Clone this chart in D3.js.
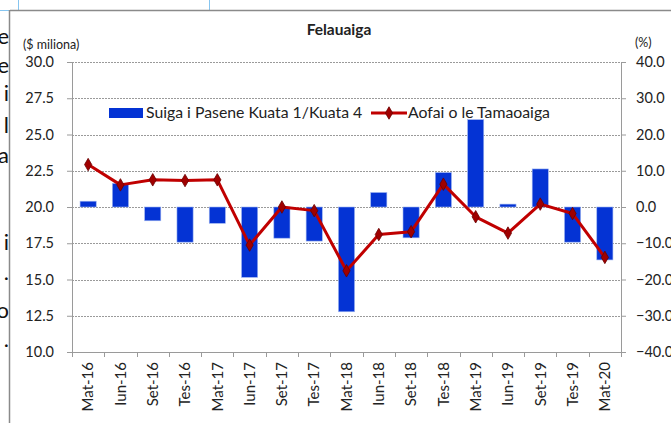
<!DOCTYPE html>
<html>
<head>
  <meta charset="utf-8">
  <title>Felauaiga</title>
  <style>
    body { margin: 0; background: #fff; }
    svg text { font-family: Lato, "Open Sans", sans-serif; fill: #222; }
  </style>
</head>
<body>
  <div id="chart"></div>

  <script src="https://d3js.org/d3.v7.min.js"></script>
  <script>
    // Vaitaimi (kuata)
    const categories = ["Mat-16", "Iun-16", "Set-16", "Tes-16", "Mat-17", "Iun-17", "Set-17", "Tes-17",
      "Mat-18", "Iun-18", "Set-18", "Tes-18", "Mat-19", "Iun-19", "Set-19", "Tes-19", "Mat-20"];

    // Suiga i Pasene Kuata 1/Kuata 4 (%)
    const barValues = [1.6, 6.5, -3.8, -9.7, -4.5, -19.4, -8.6, -9.4,
      -28.9, 4.0, -8.5, 9.5, 24.1, 0.8, 10.5, -9.7, -14.6];

    // Aofai o le Tamaoaiga (%)
    const lineValues = [11.7, 6.1, 7.5, 7.3, 7.5, -10.5, 0.0, -1.0,
      -17.6, -7.6, -6.8, 6.3, -2.7, -7.2, 0.8, -1.8, -13.9];

    const leftTicks = [10, 12.5, 15, 17.5, 20, 22.5, 25, 27.5, 30];
    const rightTicks = [-40, -30, -20, -10, 0, 10, 20, 30, 40];

    const width = 671, height = 423;
    const plot = { left: 72, right: 621, top: 62, bottom: 352 };

    const svg = d3.select("#chart").append("svg")
      .attr("width", width)
      .attr("height", height);

    // cut-off text from the page on the left
    const sideText = [["e", 44], ["e", 73], ["i", 101], ["l", 133], ["a", 163], ["i", 250], [".", 280], ["o", 318], [".", 347]];
    svg.append("g").selectAll("text")
      .data(sideText)
      .enter().append("text")
      .attr("x", 9)
      .attr("y", d => d[1])
      .attr("text-anchor", "end")
      .style("font-size", "22px")
      .style("fill", "#111")
      .text(d => d[0]);
    svg.append("rect").attr("x", 10).attr("y", 0).attr("width", width).attr("height", height).attr("fill", "#fff");

    // cell borders and chart frame
    svg.append("line").attr("x1", 0).attr("x2", 18).attr("y1", 10.5).attr("y2", 10.5).attr("stroke", "#86c5f0");
    svg.append("line").attr("x1", 18.5).attr("x2", 18.5).attr("y1", 0).attr("y2", 10).attr("stroke", "#86c5f0");
    svg.append("line").attr("x1", 209.5).attr("x2", 209.5).attr("y1", 0).attr("y2", 10).attr("stroke", "#86c5f0");
    svg.append("line").attr("x1", 10).attr("x2", width).attr("y1", 10.5).attr("y2", 10.5).attr("stroke", "#8a8a8a").attr("stroke-width", 1.5);
    svg.append("line").attr("x1", 9.5).attr("x2", 9.5).attr("y1", 10).attr("y2", height).attr("stroke", "#8a8a8a").attr("stroke-width", 1.5);

    const x = d3.scaleBand()
      .domain(categories)
      .range([plot.left, plot.right])
      .paddingInner(0.5)
      .paddingOuter(0.25);

    const xc = d => x(d) + x.bandwidth() / 2;

    const yLeft = d3.scaleLinear().domain([10, 30]).range([plot.bottom, plot.top]);
    const yRight = d3.scaleLinear().domain([-40, 40]).range([plot.bottom, plot.top]);

    // gridlines
    svg.append("g").selectAll("line")
      .data(leftTicks.filter(d => d > 10))
      .enter().append("line")
      .attr("x1", plot.left).attr("x2", plot.right)
      .attr("y1", d => Math.round(yLeft(d)) + 0.5)
      .attr("y2", d => Math.round(yLeft(d)) + 0.5)
      .attr("stroke", "#9a9a9a")
      .attr("stroke-dasharray", "2,1");

    // bars
    svg.append("g").selectAll("rect")
      .data(barValues)
      .enter().append("rect")
      .attr("x", (d, i) => x(categories[i]))
      .attr("width", x.bandwidth())
      .attr("y", d => yRight(Math.max(0, d)))
      .attr("height", d => Math.abs(yRight(d) - yRight(0)))
      .attr("fill", "#0433d4")
      .attr("stroke", "#9db4f0")
      .attr("stroke-width", 0.6);

    // axes
    const leftAxis = svg.append("g")
      .attr("transform", `translate(${plot.left},0)`)
      .call(d3.axisLeft(yLeft).tickValues(leftTicks).tickFormat(d3.format(".1f")).tickSizeOuter(0).tickSize(5).tickPadding(13));
    const rightAxis = svg.append("g")
      .attr("transform", `translate(${plot.right},0)`)
      .call(d3.axisRight(yRight).tickValues(rightTicks).tickFormat(d3.format(".1f")).tickSizeOuter(0).tickSize(5).tickPadding(10));
    const bottomAxis = svg.append("g")
      .attr("transform", `translate(0,${plot.bottom})`)
      .call(d3.axisBottom(x).tickSize(0).tickSizeOuter(0));

    [leftAxis, rightAxis, bottomAxis].forEach(g => {
      g.select(".domain").attr("stroke", "#9a9a9a");
      g.selectAll(".tick line").attr("stroke", "#9a9a9a");
      g.selectAll("text").style("font-size", "14.5px").style("font-family", "Lato, sans-serif").attr("fill", "#222");
    });

    // category boundary ticks
    const bounds = d3.range(categories.length + 1).map(i => plot.left + i * (plot.right - plot.left) / categories.length);
    svg.append("g").selectAll("line")
      .data(bounds)
      .enter().append("line")
      .attr("x1", d => Math.round(d) + 0.5).attr("x2", d => Math.round(d) + 0.5)
      .attr("y1", plot.bottom).attr("y2", plot.bottom + 5)
      .attr("stroke", "#9a9a9a");

    bottomAxis.selectAll(".tick text")
      .style("font-size", "15px")
      .attr("transform", "rotate(-90)")
      .attr("text-anchor", "end")
      .attr("x", -10)
      .attr("y", 0)
      .attr("dy", "0.35em");

    // line series
    const line = d3.line()
      .x((d, i) => xc(categories[i]))
      .y(d => yRight(d));

    svg.append("path")
      .datum(lineValues)
      .attr("d", line)
      .attr("fill", "none")
      .attr("stroke", "#c00000")
      .attr("stroke-width", 3)
      .attr("stroke-linejoin", "round");

    const diamond = d3.symbol().type(d3.symbolDiamond).size(45);
    svg.append("g").selectAll("path")
      .data(lineValues)
      .enter().append("path")
      .attr("d", diamond)
      .attr("transform", (d, i) => `translate(${xc(categories[i])},${yRight(d)})`)
      .attr("fill", "#a00000")
      .attr("stroke", "#6a0000")
      .attr("stroke-width", 0.8);

    // titles
    svg.append("text")
      .attr("x", 339).attr("y", 35)
      .attr("text-anchor", "middle")
      .style("font-size", "15.5px")
      .style("font-weight", "bold")
      .text("Felauaiga");
    svg.append("text")
      .attr("x", 23).attr("y", 49)
      .style("font-size", "12.5px")
      .text("($ miliona)");
    svg.append("text")
      .attr("x", 635).attr("y", 47)
      .style("font-size", "12.5px")
      .text("(%)");

    // legend
    const legend = svg.append("g");
    legend.append("rect")
      .attr("x", 109).attr("y", 108).attr("width", 34).attr("height", 10)
      .attr("fill", "#0433d4");
    legend.append("text")
      .attr("x", 146).attr("y", 118)
      .style("font-size", "15.8px")
      .text("Suiga i Pasene Kuata 1/Kuata 4");
    legend.append("line")
      .attr("x1", 371).attr("x2", 407).attr("y1", 113).attr("y2", 113)
      .attr("stroke", "#c00000").attr("stroke-width", 3);
    legend.append("path")
      .attr("d", diamond)
      .attr("transform", "translate(389,113)")
      .attr("fill", "#a00000")
      .attr("stroke", "#6a0000")
      .attr("stroke-width", 0.8);
    legend.append("text")
      .attr("x", 408).attr("y", 118)
      .style("font-size", "15.8px")
      .text("Aofai o le Tamaoaiga");
  </script>
</body>
</html>
